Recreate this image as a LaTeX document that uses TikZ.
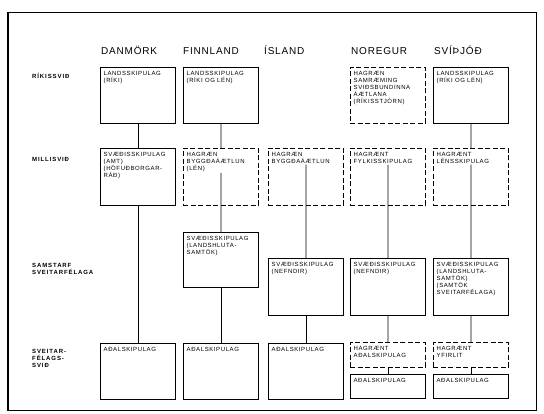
\documentclass[tikz,border=0pt]{standalone}
\usepackage{fontspec}
\newfontfamily\headfont{Liberation Sans}[LetterSpace=8]
\newfontfamily\boxfont{Liberation Sans}[LetterSpace=10]
\newfontfamily\levelfont{Liberation Sans}[LetterSpace=15]
\usetikzlibrary{positioning}

\begin{document}
\begin{tikzpicture}[x=1pt, y=-1pt,
    every node/.style={inner sep=0pt},
    solidbox/.style={draw, line width=1.2pt, minimum width=75pt, minimum height=56pt, anchor=north west},
    dashbox/.style={solidbox, line width=0.8pt, dash pattern=on 5pt off 2.5pt},
    boxtext/.style={anchor=north west, align=left, inner sep=1pt, xshift=2.5pt, yshift=-3pt,
                    font=\boxfont\fontsize{6}{7}\selectfont},
    country/.style={anchor=base west, font=\headfont\fontsize{10}{12}\selectfont},
    level/.style={anchor=west, align=left, font=\levelfont\bfseries\fontsize{6}{7}\selectfont},
    link/.style={line width=0.8pt}
  ]

    \useasboundingbox (0,0) rectangle (544,413);
    \draw[line width=0.5pt] (7.5,12) rectangle (536,410);
    \draw[line width=1.2pt] (8,12) -- (8,410);

    % countries
    \node[country] (hda) at (101,54) {DANMÖRK};
    \node[country] (hfi) at (183,54) {FINNLAND};
    \node[country] (his) at (264,54) {ÍSLAND};
    \node[country] (hno) at (351,54) {NOREGUR};
    \node[country] (hsv) at (434,54) {SVÍÞJÓÐ};

    % levels
    \node[level] (lrik) at (32,76) {RÍKISSVIÐ};
    \node[level] (lmil) at (32,159) {MILLISVIÐ};
    \node[level] (lsam) at (32,269) {SAMSTARF\\SVEITARFÉLAGA};
    \node[level] (lsve) at (32,358) {SVEITAR-\\FÉLAGS-\\SVIÐ};

    % boxes
    \node[solidbox] (da1) at (100,67) {};
    \node[solidbox] (fi1) at (183,67) {};
    \node[dashbox] (no1) at (350,67) {};
    \node[solidbox] (sv1) at (433,67) {};

    \node[solidbox, minimum height=57pt] (da2) at (100,148) {};
    \node[dashbox, minimum height=57pt] (fi2) at (183,148) {};
    \node[dashbox, minimum height=57pt] (is2) at (268,148) {};
    \node[dashbox, minimum height=57pt] (no2) at (350,148) {};
    \node[dashbox, minimum height=57pt] (sv2) at (433,148) {};

    \node[solidbox, minimum height=55pt] (fi3) at (183,232) {};
    \node[solidbox, minimum height=57pt] (is3) at (268,258) {};
    \node[solidbox, minimum height=57pt] (no3) at (350,258) {};
    \node[solidbox, minimum height=57pt] (sv3) at (433,258) {};

    \node[solidbox] (da4) at (100,343) {};
    \node[solidbox] (fi4) at (183,343) {};
    \node[solidbox] (is4) at (268,343) {};
    \node[dashbox, minimum height=25pt] (no4) at (350,342) {};
    \node[solidbox, minimum height=24pt, below=6pt of no4] (no5) {};
    \node[dashbox, minimum height=25pt] (sv4) at (433,342) {};
    \node[solidbox, minimum height=24pt, below=6pt of sv4] (sv5) {};

    % texts
    \node[boxtext] (da1t) at (da1.north west) {LANDSSKIPULAG\\(RÍKI)};
    \node[boxtext] (fi1t) at (fi1.north west) {LANDSSKIPULAG\\(RÍKI OG LÉN)};
    \node[boxtext] (no1t) at (no1.north west) {HAGRÆN\\SAMRÆMING\\SVIÐSBUNDINNA\\ÁÆTLANA\\(RÍKISSTJÓRN)};
    \node[boxtext] (sv1t) at (sv1.north west) {LANDSSKIPULAG\\(RÍKI OG LÉN)};

    \node[boxtext] (da2t) at (da2.north west) {SVÆÐISSKIPULAG\\(AMT)\\(HÖFUÐBORGAR-\\RÁÐ)};
    \node[boxtext] (fi2t) at (fi2.north west) {HAGRÆN\\BYGGÐAÁÆTLUN\\(LÉN)};
    \node[boxtext] (is2t) at (is2.north west) {HAGRÆN\\BYGGÐAÁÆTLUN};
    \node[boxtext] (no2t) at (no2.north west) {HAGRÆNT\\FYLKISSKIPULAG};
    \node[boxtext] (sv2t) at (sv2.north west) {HAGRÆNT\\LÉNSSKIPULAG};

    \node[boxtext] (fi3t) at (fi3.north west) {SVÆÐISSKIPULAG\\(LANDSHLUTA-\\SAMTÖK)};
    \node[boxtext] (is3t) at (is3.north west) {SVÆÐISSKIPULAG\\(NEFNDIR)};
    \node[boxtext] (no3t) at (no3.north west) {SVÆÐISSKIPULAG\\(NEFNDIR)};
    \node[boxtext] (sv3t) at (sv3.north west) {SVÆÐISSKIPULAG\\(LANDSHLUTA-\\SAMTÖK)\\(SAMTÖK\\SVEITARFÉLAGA)};

    \node[boxtext] (da4t) at (da4.north west) {AÐALSKIPULAG};
    \node[boxtext] (fi4t) at (fi4.north west) {AÐALSKIPULAG};
    \node[boxtext] (is4t) at (is4.north west) {AÐALSKIPULAG};
    \node[boxtext] (no4t) at (no4.north west) {HAGRÆNT\\AÐALSKIPULAG};
    \node[boxtext] (no5t) at (no5.north west) {AÐALSKIPULAG};
    \node[boxtext] (sv4t) at (sv4.north west) {HAGRÆNT\\YFIRLIT};
    \node[boxtext] (sv5t) at (sv5.north west) {AÐALSKIPULAG};

    % links
    \draw[link] (da1) -- (da2);
    \draw[link] (da2) -- (da4);

    \draw[link] (fi1) -- (fi2);
    \draw[link] (fi2t.south -| fi2) -- (fi3);
    \draw[link] (fi3) -- (fi4);

    \draw[link] (is2t.south -| is2) -- (is3);
    \draw[link] (is3) -- (is4);

    \draw[link] (no2t.south -| no2) -- (no3);
    \draw[link] (no3) -- (no4);
    \draw[link] (no4) -- (no5);

    \draw[link] (sv1) -- (sv2);
    \draw[link] (sv2t.south -| sv2) -- (sv3);
    \draw[link] (sv3) -- (sv4);
    \draw[link] (sv4) -- (sv5);

\end{tikzpicture}
\end{document}
